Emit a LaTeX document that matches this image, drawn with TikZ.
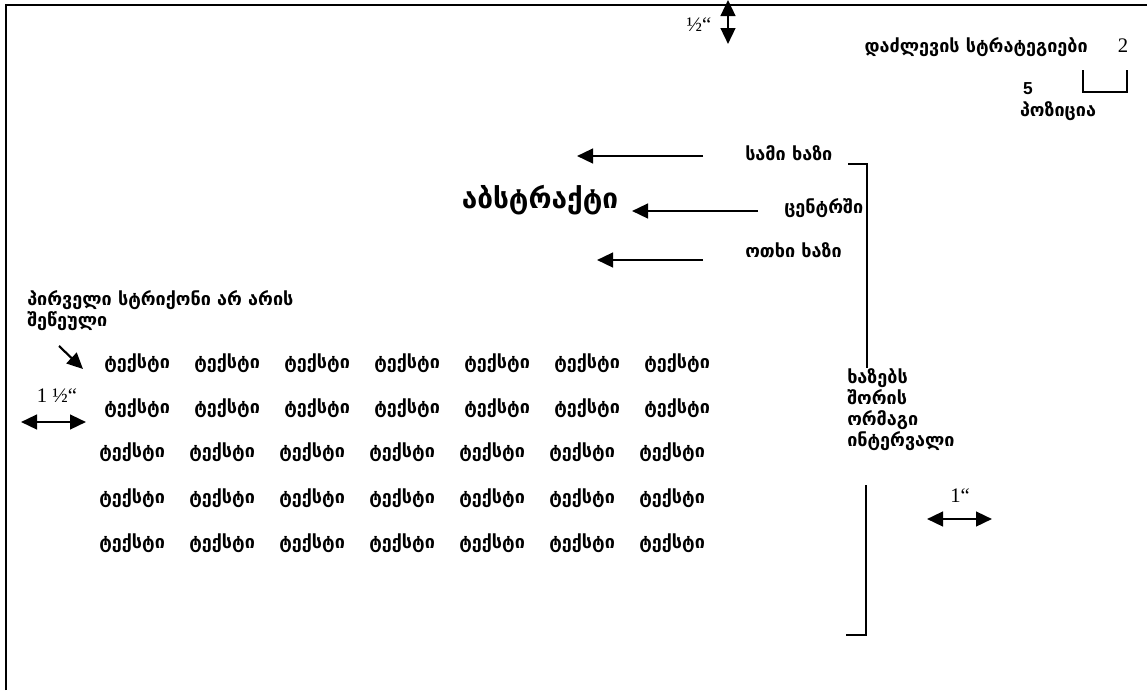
\documentclass[tikz,border=0pt]{standalone}
\usepackage{fontspec}
\setmainfont{Liberation Serif}
\newfontfamily\geofont{DejaVu Sans}
\newfontfamily\arialfont{Liberation Sans}
\usetikzlibrary{arrows.meta,positioning}

\begin{document}
\begin{tikzpicture}[x=0.75pt,y=-0.75pt,>={Triangle[length=12pt,width=11pt]},
    geo/.style={inner sep=0pt,font=\geofont\bfseries\fontsize{13.5}{15.8}\selectfont,align=left},
    word/.style={geo,anchor=west},
    meas/.style={inner sep=0pt,font=\fontsize{15.5}{18}\selectfont},
    arr/.style={->,line width=1.8pt},
    darr/.style={<->,line width=1.8pt},
    brk/.style={line width=1.1pt}]
\useasboundingbox (0,0) rectangle (1147,690);
% page edge
\draw[line width=0.8pt] (6,690) -- (6,5) -- (1147,5);
% top margin
\coordinate (tm1) at (728,0); \coordinate (tm2) at (728,44);
\draw[darr] (tm1)--(tm2);
\node[meas] (half) at (699,25) {½“};
% header
\node[geo,anchor=east] (strat) at (1088,47) {დაძლევის სტრატეგიები};
\node[meas] (pg) at (1123,46) {2};
\node[inner sep=0pt,font=\arialfont\bfseries\fontsize{13}{15}\selectfont] (five) at (1028,89) {5};
\node[geo] (pos) at (1058,111) {პოზიცია};
\coordinate (b1) at (1083,70); \coordinate (b2) at (1083,92);
\coordinate (b3) at (1127,92); \coordinate (b4) at (1127,70);
\draw[brk] (b1)--(b2)--(b3)--(b4);
% title block
\node[geo,font=\geofont\bfseries\fontsize{21}{25}\selectfont] (abs) at (540,200) {აბსტრაქტი};
\node[word] (three) at (745,153) {სამი ხაზი};
\node[word] (center) at (784,208) {ცენტრში};
\node[word] (four) at (745,250) {ოთხი ხაზი};
\coordinate (a1s) at (703,156); \coordinate (a1e) at (577,156);
\coordinate (a2s) at (758,211); \coordinate (a2e) at (632,211);
\coordinate (a3s) at (703,260); \coordinate (a3e) at (597,260);
\draw[arr] (a1s)--(a1e); \draw[arr] (a2s)--(a2e); \draw[arr] (a3s)--(a3e);
% double spacing bracket
\coordinate (u1) at (848,164); \coordinate (u2) at (867,164); \coordinate (u3) at (867,368);
\draw[brk] (u1)--(u2)--(u3);
\node[geo,anchor=north west] (dbl) at (847,368) {ხაზებს\\შორის\\ორმაგი\\ინტერვალი};
\coordinate (l1) at (866,485); \coordinate (l2) at (866,635); \coordinate (l3) at (846,635);
\draw[brk] (l1)--(l2)--(l3);
% right margin
\node[meas] (one) at (960,496) {1“};
\coordinate (rm1) at (927,519); \coordinate (rm2) at (992,519);
\draw[darr] (rm1)--(rm2);
% first line note
\node[geo,anchor=north west] (first) at (27,290) {პირველი სტრიქონი არ არის\\შეწეული};
\coordinate (d1) at (59,346); \coordinate (d2) at (83,369);
\draw[arr,line width=1.6pt] (d1)--(d2);
% left margin
\node[meas] (onehalf) at (57,396) {1 ½“};
\coordinate (lm1) at (21,422); \coordinate (lm2) at (86,422);
\draw[darr] (lm1)--(lm2);
% body text
\foreach \r/\y/\x in {1/363/104,2/408/104,3/452/99,4/498/99,5/543/99}
  \foreach \c in {0,...,6}
    \node[word] (t\r\c) at ({\x+\c*90},\y) {ტექსტი};
\end{tikzpicture}
\end{document}
